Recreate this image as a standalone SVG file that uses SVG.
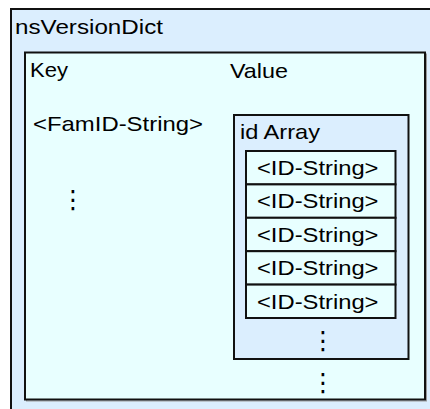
<svg xmlns="http://www.w3.org/2000/svg" width="430" height="409" viewBox="0 0 430 409">
  <style>
    .box { stroke: #111; stroke-width: 2; }
    .blue { fill: #dbeefe; }
    .cyan { fill: #e8ffff; }
    .shadow { fill: none; stroke: #999; stroke-width: 1; }
    text { font-family: "Liberation Sans", Arial, sans-serif; font-size: 21px; fill: #000; }
    .dots { font-family: "DejaVu Sans", sans-serif; font-size: 25px; text-anchor: middle; }
  </style>
  <rect width="430" height="409" fill="#fff"/>

  <g id="nsVersionDict">
    <rect class="box blue" x="11" y="9" width="430" height="420"/>
    <text x="15" y="34" textLength="148" lengthAdjust="spacingAndGlyphs">nsVersionDict</text>
  </g>

  <g id="dictTable">
    <rect class="shadow" x="26.5" y="54" width="400" height="347"/>
    <rect class="box cyan" x="25" y="52.5" width="400" height="347"/>
    <text x="30" y="77" textLength="38" lengthAdjust="spacingAndGlyphs">Key</text>
    <text x="230" y="78" textLength="58" lengthAdjust="spacingAndGlyphs">Value</text>
    <text x="33" y="131" textLength="170" lengthAdjust="spacingAndGlyphs">&lt;FamID-String&gt;</text>
    <text class="dots" x="73" y="208">⋮</text>
    <text class="dots" x="323" y="391">⋮</text>
  </g>

  <g id="idArray">
    <rect class="box blue" x="234" y="115" width="174.5" height="244"/>
    <text x="240" y="139" textLength="80" lengthAdjust="spacingAndGlyphs">id Array</text>
    <text class="dots" x="323" y="349">⋮</text>
  </g>

  <g id="idRow1">
    <rect class="box cyan" x="246" y="151" width="149.5" height="33.4"/>
    <text x="257" y="175" textLength="121.5" lengthAdjust="spacingAndGlyphs">&lt;ID-String&gt;</text>
  </g>
  <g id="idRow2">
    <rect class="box cyan" x="246" y="184.4" width="149.5" height="33.4"/>
    <text x="257" y="208.4" textLength="121.5" lengthAdjust="spacingAndGlyphs">&lt;ID-String&gt;</text>
  </g>
  <g id="idRow3">
    <rect class="box cyan" x="246" y="217.8" width="149.5" height="33.4"/>
    <text x="257" y="241.8" textLength="121.5" lengthAdjust="spacingAndGlyphs">&lt;ID-String&gt;</text>
  </g>
  <g id="idRow4">
    <rect class="box cyan" x="246" y="251.2" width="149.5" height="33.4"/>
    <text x="257" y="275.2" textLength="121.5" lengthAdjust="spacingAndGlyphs">&lt;ID-String&gt;</text>
  </g>
  <g id="idRow5">
    <rect class="box cyan" x="246" y="284.6" width="149.5" height="33.4"/>
    <text x="257" y="308.6" textLength="121.5" lengthAdjust="spacingAndGlyphs">&lt;ID-String&gt;</text>
  </g>

  <g id="connectors"/>
</svg>
